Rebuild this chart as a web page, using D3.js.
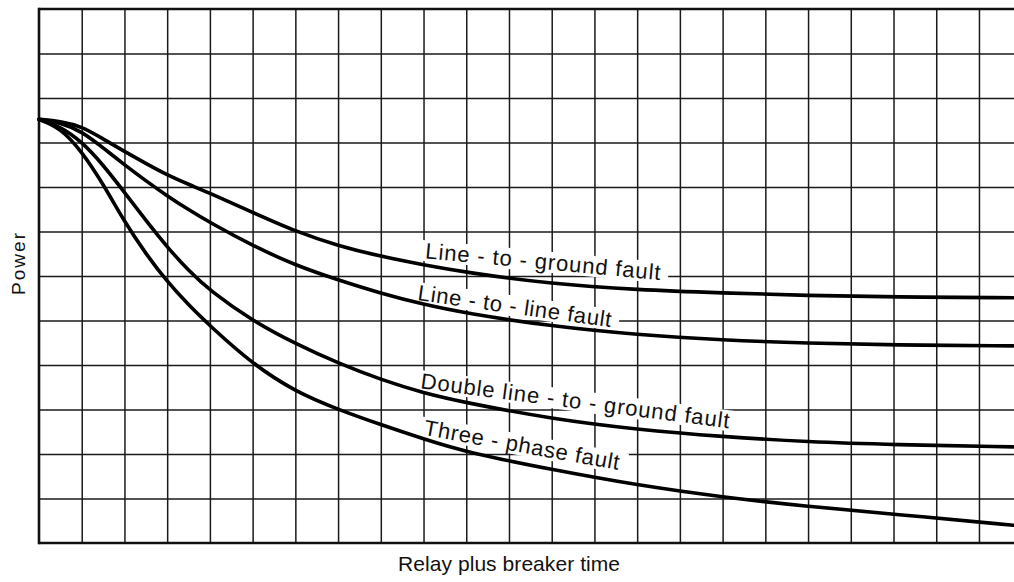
<!DOCTYPE html>
<html>
<head>
<meta charset="utf-8">
<script src="https://cdn.jsdelivr.net/npm/d3@7"></script>
<style>
  body { margin: 0; background: #fff; }
  text { font-family: "Liberation Sans", Arial, sans-serif; fill: #111; }
</style>
</head>
<body>
<script>
// relay plus breaker time, in grid columns
const times = [0, 0.5, 1, 1.5, 2, 2.5, 3, 3.5, 4, 5, 6, 7, 8, 9, 10, 12, 14, 16, 18, 20, 22.8];

// power, in grid rows above the bottom edge
const lineToGround = [9.52, 9.48, 9.36, 9.08, 8.8, 8.53, 8.27, 8.06, 7.86, 7.43, 7.0, 6.68, 6.44, 6.25, 6.08, 5.82, 5.69, 5.62, 5.56, 5.53, 5.51];
const lineToLine = [9.52, 9.45, 9.25, 8.88, 8.5, 8.14, 7.8, 7.49, 7.2, 6.68, 6.24, 5.91, 5.61, 5.36, 5.16, 4.87, 4.68, 4.56, 4.49, 4.45, 4.43];
const doubleLineToGround = [9.52, 9.36, 9.02, 8.5, 7.88, 7.25, 6.65, 6.12, 5.67, 4.99, 4.48, 4.04, 3.67, 3.37, 3.15, 2.79, 2.55, 2.39, 2.27, 2.21, 2.16];
const threePhase = [9.52, 9.33, 8.8, 8.07, 7.22, 6.5, 5.87, 5.35, 4.88, 4.02, 3.4, 3.0, 2.66, 2.34, 2.04, 1.65, 1.3, 1.03, 0.82, 0.65, 0.40];

const seriesNames = ["Line - to - ground fault", "Line - to - line fault", "Double line - to - ground fault", "Three - phase fault"];
const seriesValues = [lineToGround, lineToLine, doubleLineToGround, threePhase];

const gridCols = d3.range(0, 23);
const gridRows = d3.range(0, 13);

// where each curve label starts (grid units), its tilt and its length
const labelStart = [[9.03, 6.40], [8.85, 5.46], [8.92, 3.48], [8.99, 2.43]];
const labelAngle = [5.3, 8.0, 7.4, 10.2];
const labelLength = [236, 195, 311, 198];

const W = 1014, H = 582;
const svg = d3.select("body").append("svg")
    .attr("width", W)
    .attr("height", H);

const x = d3.scaleLinear().domain([0, 22.82]).range([39, 1014]);
const y = d3.scaleLinear().domain([0, 12]).range([543, 9]);

// grid, vertical
const vg = svg.append("g")
    .attr("transform", "translate(0," + y(0) + ")")
    .call(d3.axisBottom(x).tickValues(gridCols.slice(1)).tickSize(-(y(0) - y(12))).tickFormat(""));
vg.select(".domain").remove();
vg.selectAll(".tick line").attr("stroke", "#1a1a1a").attr("stroke-width", 1.5);

// grid, horizontal
const hg = svg.append("g")
    .attr("transform", "translate(" + x(0) + ",0)")
    .call(d3.axisLeft(y).tickValues(gridRows.slice(1, -1)).tickSize(-(x(22.82) - x(0))).tickFormat(""));
hg.select(".domain").remove();
hg.selectAll(".tick line").attr("stroke", "#1a1a1a").attr("stroke-width", 1.5);

// frame: top, left, bottom
const frame = svg.append("g").attr("stroke", "#111").attr("stroke-width", 2.6);
frame.append("line").attr("x1", x(0)).attr("x2", x(22.82)).attr("y1", y(12)).attr("y2", y(12));
frame.append("line").attr("x1", x(0)).attr("x2", x(22.82)).attr("y1", y(0)).attr("y2", y(0));
frame.append("line").attr("x1", x(0)).attr("x2", x(0)).attr("y1", y(12) - 1.3).attr("y2", y(0) + 1.3);

// labels sit on white patches that break the grid
const labels = svg.selectAll(".lab")
    .data(seriesNames)
    .enter()
    .append("g")
    .attr("class", "lab")
    .attr("transform", (d, i) => "translate(" + x(labelStart[i][0]) + "," + y(labelStart[i][1]) + ") rotate(" + labelAngle[i] + ")");

labels.append("text")
    .attr("x", 0)
    .attr("y", 0)
    .style("font-size", "22px")
    .attr("textLength", (d, i) => labelLength[i])
    .attr("lengthAdjust", "spacing")
    .text(d => d);

labels.each(function() {
    const g = d3.select(this);
    const b = g.select("text").node().getBBox();
    g.insert("rect", "text")
        .attr("x", b.x - 4)
        .attr("y", b.y + 2)
        .attr("width", b.width + 12)
        .attr("height", b.height - 4)
        .attr("fill", "#fff");
});

// curves
const line = d3.line()
    .x((d, i) => x(times[i]))
    .y(d => y(d))
    .curve(d3.curveBasis);

svg.selectAll(".curve")
    .data(seriesValues)
    .enter()
    .append("path")
    .attr("class", "curve")
    .attr("fill", "none")
    .attr("stroke", "#000")
    .attr("stroke-width", 3.6)
    .attr("stroke-linecap", "round")
    .attr("d", d => line(d));

// axis titles
svg.append("text")
    .attr("transform", "translate(25,264) rotate(-90)")
    .attr("text-anchor", "middle")
    .style("font-size", "19px")
    .attr("textLength", 62)
    .attr("lengthAdjust", "spacing")
    .text("Power");

svg.append("text")
    .attr("x", 509)
    .attr("y", 571)
    .attr("text-anchor", "middle")
    .style("font-size", "21px")
    .attr("textLength", 222)
    .attr("lengthAdjust", "spacing")
    .text("Relay plus breaker time");
</script>
</body>
</html>
